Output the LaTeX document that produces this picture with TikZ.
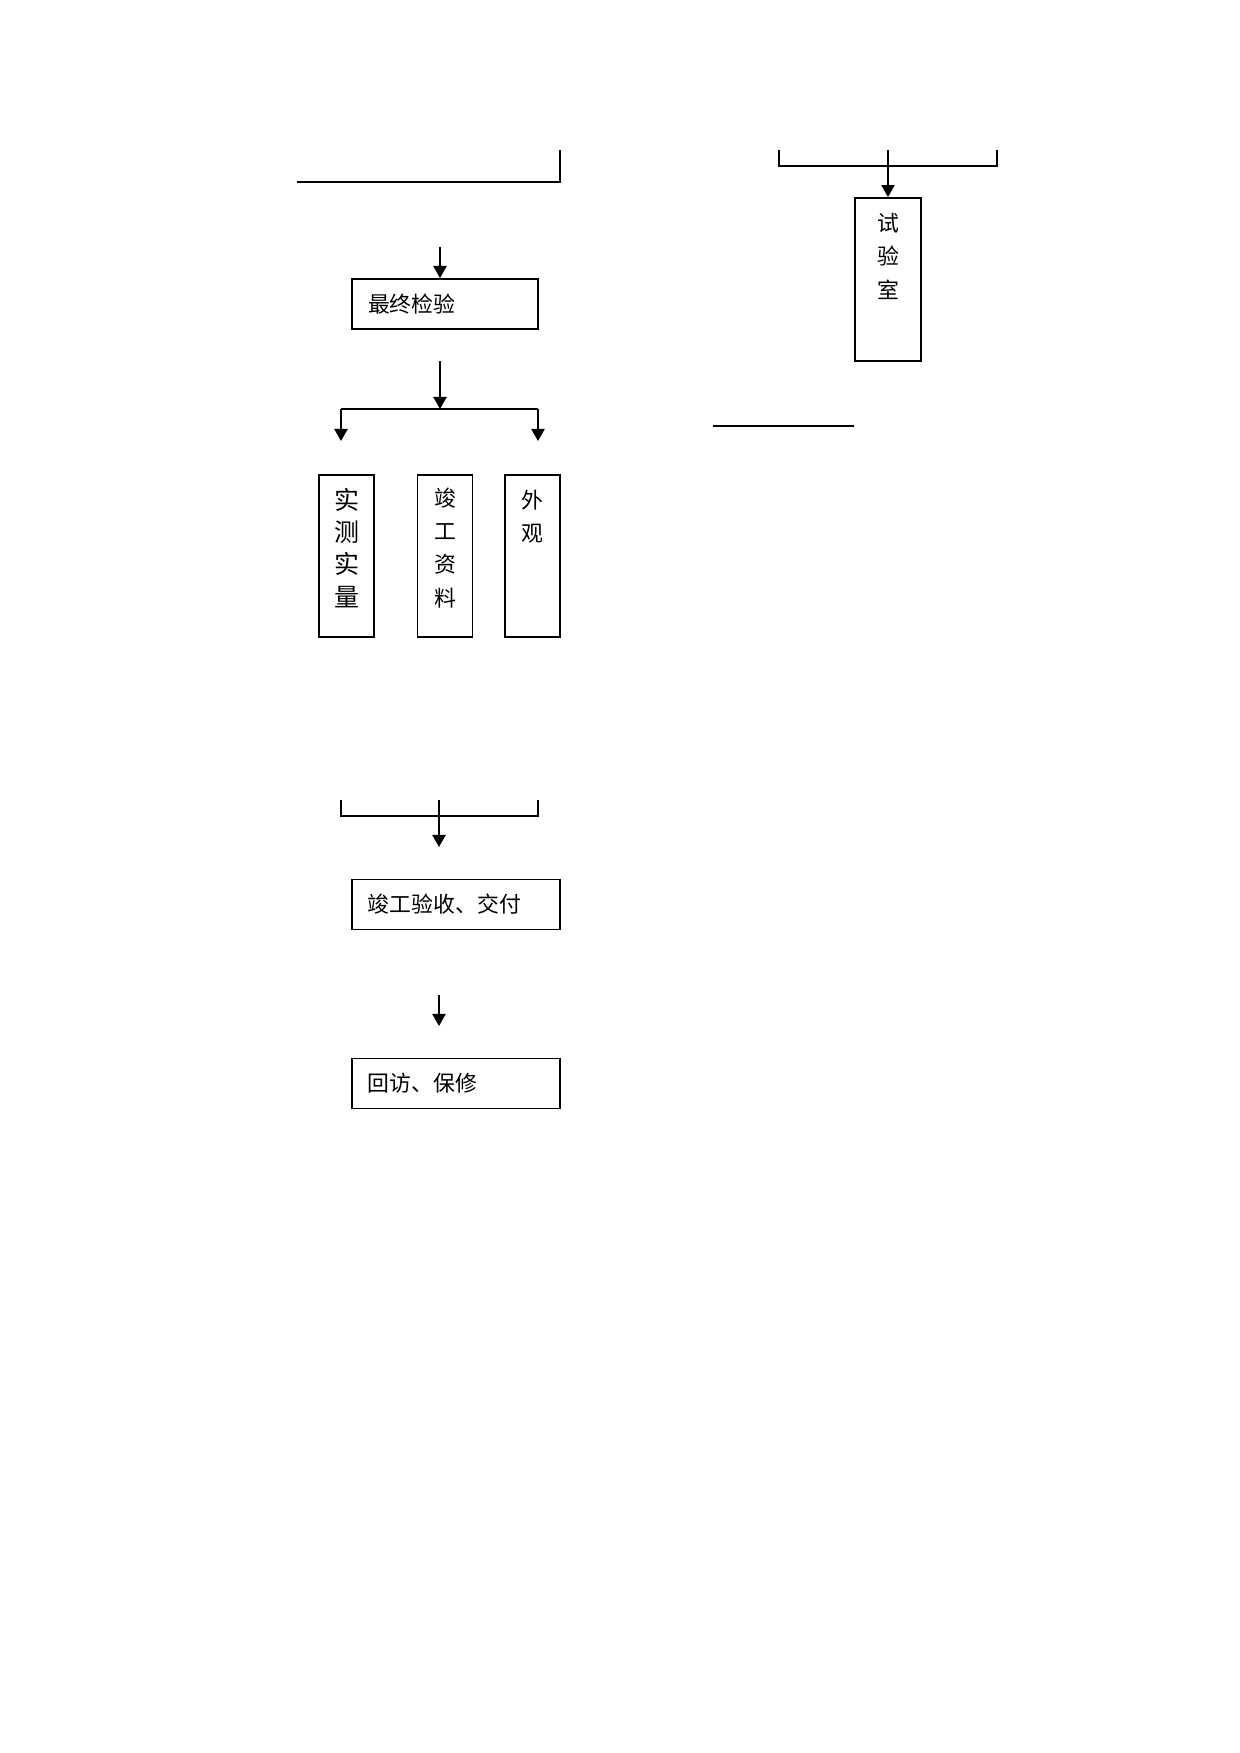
\documentclass[tikz,border=0pt]{standalone}
\usepackage{fontspec}
\newfontfamily\cjk{Noto Sans CJK SC}
\usepackage{tikz}
\usetikzlibrary{arrows.meta}

\begin{document}
\begin{tikzpicture}[x=0.48pt,y=-0.48pt]
\tikzset{flowbox/.style=
	{draw,line width=0.9pt,inner xsep=7.7pt,inner ysep=0pt,align=left,minimum height=24pt,font=\cjk\fontsize{10.5}{13}\selectfont},
	colbox/.style=
	{draw,line width=0.9pt,minimum width=26.4pt,minimum height=77.8pt},
	coltext/.style=
	{align=center,anchor=north,inner sep=0pt,font=\cjk\fontsize{10.5}{15.5}\selectfont},
	arr/.style={-{Triangle[width=6.3pt,length=5.8pt]},line width=1pt},
	thinline/.style={line width=0.6pt}}
\useasboundingbox (0,0) rectangle (1240,1753);
% left column
\draw[thinline] (297,182) -- (560,182) -- (560,150);
\node[flowbox,text width=73.9pt] (zj) at (445,304) {最终检验};
\coordinate (a1) at (440,247);
\draw[arr] (a1) -- (a1 |- zj.north);
\coordinate (a2) at (440,361);
\coordinate (fork) at (440,409);
\coordinate (fl) at (341,409);
\coordinate (fr) at (538,409);
\draw[arr] (a2) -- (fork);
\draw[line width=0.7pt] (fl) -- (fr);
\draw[arr] (fl) -- ++(0,32);
\draw[arr] (fr) -- ++(0,32);
\node[colbox] (sc) at (346.5,556) {};
\node[colbox] (zl) at (445,556) {};
\node[colbox] (wg) at (532.5,556) {};
\node[coltext,font=\cjk\fontsize{12}{15.5}\selectfont] (tsc) at ([yshift=-6.6pt]sc.north) {实\\测\\实\\量};
\node[coltext,font=\cjk\fontsize{10.5}{15.9}\selectfont] (tzl) at ([yshift=-6.6pt]zl.north) {竣\\工\\资\\料};
\node[coltext] (twg) at ([yshift=-7.7pt]wg.north) {外\\观};
% join
\draw[thinline] (341,800) -- (341,816) -- (538,816) -- (538,800);
\coordinate (a3) at (439,800);
\coordinate (a3e) at (439,847);
\draw[arr] (a3) -- (a3e);
\node[flowbox,text width=84.5pt] (ys) at (456,904.5) {竣工验收、交付};
\coordinate (a4) at (439,995);
\coordinate (a4e) at (439,1026);
\draw[arr] (a4) -- (a4e);
\node[flowbox,text width=84.5pt] (hf) at (456,1083.5) {回访、保修};
% right column
\draw[thinline] (779,150) -- (779,166) -- (997,166) -- (997,150);
\node[colbox,minimum width=31.7pt,minimum height=78.2pt] (sy) at (888,279.5) {};
\node[coltext,font=\cjk\fontsize{10.5}{16}\selectfont] (tsy) at ([yshift=-7.6pt]sy.north) {试\\验\\室};
\coordinate (a5) at (888,150);
\draw[arr] (a5) -- (sy.north);
\coordinate (r1) at (713,426);
\draw[thinline] (r1) -- (sy.west |- r1);
\end{tikzpicture}
\end{document}
